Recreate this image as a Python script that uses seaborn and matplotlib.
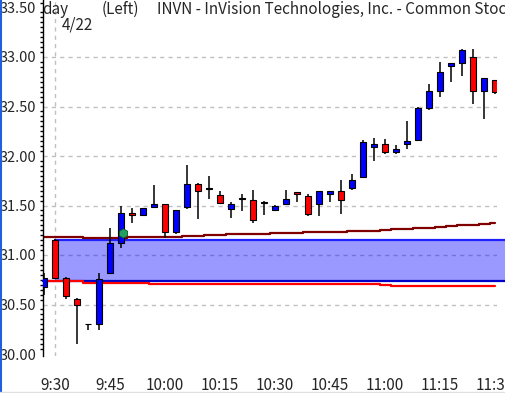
import numpy as np
import pandas as pd
import seaborn as sns
import matplotlib.pyplot as plt
from matplotlib.ticker import MultipleLocator, FormatStrFormatter
from matplotlib.lines import Line2D

# 3-minute bars, INVN intraday 4/22
opens = [30.68, 31.15, 30.77, 30.56, 30.30, 30.30, 30.82, 31.12, 31.42, 31.40,
         31.48, 31.52, 31.23, 31.48, 31.72, 31.67, 31.61, 31.46, 31.57, 31.56,
         31.54, 31.45, 31.52, 31.64, 31.60, 31.52, 31.62, 31.65, 31.68, 31.79,
         32.09, 32.12, 32.04, 32.12, 32.16, 32.48, 32.66, 32.91, 32.94, 33.00,
         32.66, 32.77]
highs = [30.82, 31.16, 30.78, 30.57, 30.30, 30.82, 31.27, 31.49, 31.47, 31.47,
         31.71, 31.52, 31.45, 31.91, 31.73, 31.80, 31.65, 31.54, 31.62, 31.66,
         31.55, 31.51, 31.66, 31.64, 31.62, 31.65, 31.65, 31.76, 31.82, 32.16,
         32.18, 32.17, 32.11, 32.35, 32.49, 32.73, 32.95, 32.94, 33.08, 33.08,
         32.79, 32.77]
lows = [30.60, 30.76, 30.56, 30.10, 30.24, 30.24, 30.81, 31.07, 31.32, 31.39,
        31.48, 31.17, 31.21, 31.46, 31.36, 31.57, 31.52, 31.37, 31.44, 31.32,
        31.40, 31.44, 31.51, 31.54, 31.39, 31.39, 31.54, 31.41, 31.66, 31.78,
        31.95, 32.02, 32.02, 32.07, 32.15, 32.46, 32.60, 32.75, 32.81, 32.53,
        32.37, 32.63]
closes = [30.77, 30.77, 30.59, 30.50, 30.30, 30.76, 31.12, 31.42, 31.40, 31.47,
          31.52, 31.23, 31.45, 31.72, 31.65, 31.67, 31.53, 31.52, 31.57, 31.35,
          31.53, 31.49, 31.57, 31.62, 31.41, 31.65, 31.65, 31.56, 31.76, 32.14,
          32.12, 32.04, 32.07, 32.15, 32.48, 32.66, 32.85, 32.94, 33.07, 32.66,
          32.79, 32.65]

# overlay lines
upper_line = [31.18, 31.18, 31.18, 31.18, 31.17, 31.17, 31.17, 31.17, 31.18, 31.18,
              31.18, 31.18, 31.18, 31.19, 31.19, 31.20, 31.20, 31.21, 31.21, 31.21,
              31.21, 31.22, 31.22, 31.22, 31.23, 31.23, 31.23, 31.23, 31.24, 31.24,
              31.24, 31.25, 31.26, 31.26, 31.27, 31.27, 31.28, 31.29, 31.30, 31.30,
              31.31, 31.32]
lower_line = [30.74, 30.74, 30.74, 30.74, 30.72, 30.72, 30.72, 30.72, 30.72, 30.72,
              30.71, 30.71, 30.71, 30.71, 30.71, 30.71, 30.71, 30.71, 30.71, 30.71,
              30.71, 30.71, 30.71, 30.71, 30.71, 30.71, 30.71, 30.71, 30.71, 30.71,
              30.71, 30.70, 30.69, 30.69, 30.69, 30.69, 30.69, 30.69, 30.69, 30.69,
              30.69, 30.69]
band_low, band_high = 30.74, 31.15
marker_bar, marker_price = 7.2, 31.22

tick_labels = ["9:30", "9:45", "10:00", "10:15", "10:30", "10:45", "11:00", "11:15", "11:30"]
session_open = "9:30"

times = pd.date_range("2003-04-22 09:27", periods=len(opens), freq="3min")
df = pd.DataFrame({"open": opens, "high": highs, "low": lows, "close": closes,
                   "upper": upper_line, "lower": lower_line})
df["i"] = np.arange(len(df))
df["label"] = times.strftime("%-H:%M")

sns.set_style("white")
plt.rcParams["font.family"] = ["Noto Sans CJK JP", "DejaVu Sans"]

W, H = 505, 393
fig = plt.figure(figsize=(W / 100, H / 100), dpi=100)
ax = fig.add_axes([43 / W, 37 / H, 454 / W, 356 / H])

# background grid
for v in np.arange(30.5, 33.01, 0.5):
    ax.axhline(v, color="#c0c0c0", lw=1, ls=(0, (3, 3)), zorder=0.5)
open_idx = int(df.index[df["label"] == session_open][0])
ax.axvline(open_idx, color="#c0c0c0", lw=1, ls=(0, (3, 3)), zorder=0.5)

# band
ax.axhspan(band_low, band_high, xmin=12 / 454, xmax=462 / 454, color="#0000ff",
           alpha=0.4, lw=0, clip_on=False, zorder=1)
ax.plot([0, 1.0176], [band_low, band_low], transform=ax.get_yaxis_transform(),
        color="#0000c8", lw=1.6, clip_on=False, zorder=1.2)
ax.plot([12 / 454, 1.0176], [band_high, band_high], transform=ax.get_yaxis_transform(),
        color="#2020ff", lw=1.6, clip_on=False, zorder=1.2)

sns.lineplot(data=df, x="i", y="upper", color="#800000", lw=1.6, drawstyle="steps-mid",
             ax=ax, zorder=1.5)
sns.lineplot(data=df, x="i", y="lower", color="#ff0000", lw=1.6, drawstyle="steps-mid",
             ax=ax, zorder=1.5)

# candles
up = df["close"] >= df["open"]
colors = np.where(up, "#0000ff", "#ff0000")
body_low = df[["open", "close"]].min(axis=1)
body_h = (df["close"] - df["open"]).abs().clip(lower=0.006)
ax.vlines(df["i"], df["low"], df["high"], color="black", lw=1.1, zorder=2)
ax.bar(df["i"], body_h, bottom=body_low, width=0.55, color=colors,
       edgecolor="black", linewidth=0.8, zorder=3)

ax.scatter([marker_bar], [marker_price], s=45, marker="h", color="#22a060",
           edgecolor="#0a5a2a", linewidth=0.6, zorder=4)

ax.set_xlim((43 - 44) / 11, (497 - 44) / 11)
ax.set_ylim(30 - 2 / 99, 30 + 354 / 99)

tick_pos = [i for i, lab in enumerate(df["label"]) if lab in tick_labels]
ax.set_xticks(tick_pos)
ax.set_xticklabels(tick_labels)
ax.grid(False)

ax.yaxis.set_major_locator(MultipleLocator(0.5))
ax.yaxis.set_minor_locator(MultipleLocator(0.05))
ax.yaxis.set_major_formatter(FormatStrFormatter("%.2f"))
ax.tick_params(axis="y", which="major", direction="out", length=4, width=1,
               color="black", pad=1, labelsize=10.5)
ax.tick_params(axis="y", which="minor", direction="out", length=2.5, width=1,
               color="black", left=True)
ax.tick_params(axis="x", direction="out", length=6, width=1, color="black",
               pad=9, labelsize=11)

ax.set_xlabel("")
ax.set_ylabel("")
for side in ["top", "right", "bottom"]:
    ax.spines[side].set_visible(False)
ax.spines["left"].set_color("black")
ax.spines["left"].set_linewidth(1)

# header texts
def fx(x):
    return x / W

def fy(y):
    return 1 - y / H

fig.text(fx(42), fy(1), "day", fontsize=11, va="top", ha="left")
fig.text(fx(102), fy(1), "(Left)", fontsize=11, va="top", ha="left")
fig.text(fx(157), fy(1), "INVN - InVision Technologies, Inc. - Common Stock",
         fontsize=11, va="top", ha="left")
fig.text(fx(62), fy(17), "4/22", fontsize=11, va="top", ha="left")

fig.add_artist(Line2D([0.5 / W, 0.5 / W], [0, 1], color="#2060e0", lw=1.5))
fig.add_artist(Line2D([0, 1], [1.5 / H, 1.5 / H], color="#e0e0e0", lw=1))

fig.savefig("out.png", dpi=100)
